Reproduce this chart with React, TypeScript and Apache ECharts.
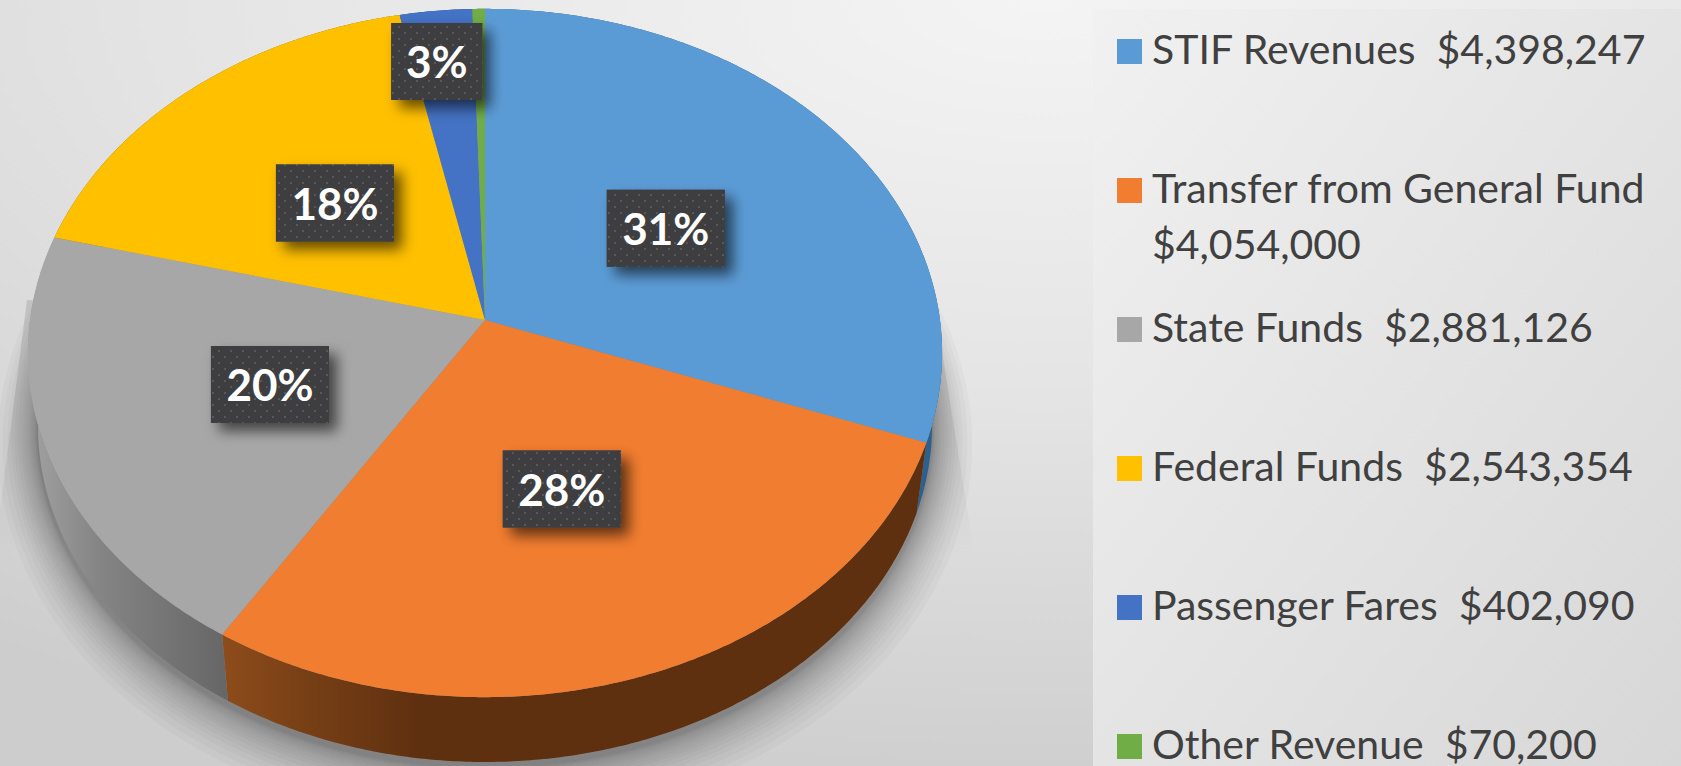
import React, { useEffect, useRef } from "react";
import * as echarts from "echarts";

const categories = ["STIF Revenues", "Transfer from General Fund", "State Funds", "Federal Funds", "Passenger Fares", "Other Revenue"];
const revenues = [4398247, 4054000, 2881126, 2543354, 402090, 70200];
const amounts = ["$4,398,247", "$4,054,000", "$2,881,126", "$2,543,354", "$402,090", "$70,200"];
const topColors = ["#5B9BD5", "#F17D30", "#A7A7A7", "#FFC000", "#4472C4", "#70AD47"];

const W = 1681;
const H = 766;
const total = revenues.reduce((a, b) => a + b, 0);
const starts: number[] = [];
revenues.reduce((acc, v, i) => {
  starts[i] = acc;
  return acc + v;
}, 0);

// perspective projection of the disc
const K = 0.0959;
const topFace = { cx: 485, cy: 320, rx: 455, ry: 341 };
const bottomFace = { cx: 485, cy: 393, rx: 445, ry: 333.6 };
const fontFamily = "Lato, 'Noto Sans', sans-serif";
const shadowSpread = [1, 2, 3, 4, 6, 8, 10, 12, 15, 18, 21, 25, 29, 33, 38, 44, 50];

function project(face: typeof topFace, frac: number, r = 1): number[] {
  const a = frac * Math.PI * 2;
  const X = Math.sin(a) * r;
  const Y = -Math.cos(a) * r;
  const w = 1 - K * Y;
  return [face.cx + (face.rx * X) / w, face.cy + (face.ry * Y) / w];
}

function arc(face: typeof topFace, from: number, to: number): number[][] {
  const n = Math.max(2, Math.ceil((to - from) * 720));
  const pts: number[][] = [];
  for (let i = 0; i <= n; i++) pts.push(project(face, from + ((to - from) * i) / n));
  return pts;
}

const hGrad = (stops: [number, string][]) => ({
  type: "linear",
  x: 0,
  y: 0,
  x2: 1,
  y2: 0,
  colorStops: stops.map(([offset, color]) => ({ offset, color })),
});

const sideFills: any[] = [
  "#2E608E",
  hGrad([[0, "#8E4C1B"], [0.12, "#773F15"], [0.28, "#5F3010"], [1, "#5F3010"]]),
  hGrad([[0, "#A2A2A2"], [0.35, "#858585"], [1, "#666666"]]),
  "#8A6A00",
  "#2B4A80",
  "#47702C",
];

// manual label offsets of the original; "3%" was dragged away from its slice
const labelShift: Record<number, number[]> = { 0: [-1, 3], 3: [2, 2], 4: [-22.5, -97] };

function App() {
  const ref = useRef<HTMLDivElement>(null);

  useEffect(() => {
    document.body.style.margin = "0";
    document.body.style.overflow = "hidden";

    const canvas = document.createElement("canvas");
    canvas.width = 12;
    canvas.height = 12;
    const ctx = canvas.getContext("2d")!;
    ctx.fillStyle = "#3E3E40";
    ctx.fillRect(0, 0, 12, 12);
    ctx.fillStyle = "#58585A";
    [[2, 2], [8, 8]].forEach(([x, y]) => ctx.fillRect(x, y, 2, 2));

    const chart = echarts.init(ref.current!, undefined, { renderer: "svg", width: W, height: H });

    const legendElements: any[] = [];
    categories.forEach((name, i) => {
      const rowY = 51.5 + i * 139;
      legendElements.push({
        type: "rect",
        z: 5,
        shape: { x: 1117, y: rowY - 12.5, width: 25, height: 25 },
        style: { fill: topColors[i] },
      });
      const wrapped = name.length > 20;
      const font = `400 41px ${fontFamily}`;
      legendElements.push({
        type: "text",
        z: 5,
        style: {
          x: 1152,
          y: rowY - 3,
          text: wrapped ? name : `${name}  ${amounts[i]}`,
          font,
          lineHeight: 36,
          fill: "#404040",
          verticalAlign: "middle",
        },
      });
      if (wrapped) {
        legendElements.push({
          type: "text",
          z: 5,
          style: {
            x: 1152,
            y: rowY + 53,
            text: amounts[i],
            font,
            lineHeight: 36,
            fill: "#404040",
            verticalAlign: "middle",
          },
        });
      }
    });

    const data = categories.map((name, i) => ({ name, value: revenues[i] }));

    chart.setOption({
      animation: false,
      tooltip: { show: false },
      graphic: [
        {
          type: "rect",
          z: -10,
          shape: { x: 0, y: 0, width: W, height: H },
          style: {
            fill: {
              type: "radial",
              x: 0.62,
              y: 0,
              r: 1.05,
              colorStops: [
                { offset: 0, color: "#F4F4F4" },
                { offset: 0.5, color: "#E4E4E4" },
                { offset: 1, color: "#CDCDCD" },
              ],
            },
          },
        },
        {
          type: "rect",
          z: -9,
          shape: { x: 1093, y: 9, width: W - 1093, height: H - 9 },
          style: {
            fill: {
              type: "linear",
              x: 0,
              y: 0,
              x2: 1,
              y2: 1,
              colorStops: [
                { offset: 0, color: "#F1F1F1" },
                { offset: 1, color: "#D7D7D7" },
              ],
            },
          },
        },
        {
          type: "polygon",
          z: -8,
          shape: {
            points: [[27, 300], [0, 510], [0, 766], [990, 766], [971, 533], [941, 345]],
          },
          style: {
            fill: {
              type: "linear",
              x: 0,
              y: 0,
              x2: 0,
              y2: 1,
              colorStops: [
                { offset: 0, color: "rgba(0,0,0,0.12)" },
                { offset: 0.3, color: "rgba(0,0,0,0.07)" },
                { offset: 0.55, color: "rgba(0,0,0,0)" },
              ],
            },
          },
        },
        ...legendElements,
      ],
      series: [
        {
          type: "custom",
          name: "Shadow",
          coordinateSystem: "none",
          z: 1,
          silent: true,
          data: shadowSpread,
          renderItem: (_params: any, api: any) => {
            const e = api.value(0);
            const face = {
              cx: bottomFace.cx,
              cy: bottomFace.cy + 5 + e * 0.2,
              rx: bottomFace.rx + e * 0.8,
              ry: bottomFace.ry + e * 0.8,
            };
            return {
              type: "polygon",
              shape: { points: arc(face, 0, 1) },
              style: { fill: "rgba(0,0,0,0.022)" },
            };
          },
        },
        {
          type: "custom",
          name: "Depth",
          coordinateSystem: "none",
          z: 2,
          silent: true,
          data,
          renderItem: (params: any, api: any) => {
            const i = params.dataIndex;
            const from = starts[i] / total;
            const to = from + api.value(0) / total;
            return {
              type: "polygon",
              shape: { points: [...arc(topFace, from, to), ...arc(bottomFace, from, to).reverse()] },
              style: { fill: sideFills[i] },
            };
          },
        },
        {
          type: "custom",
          name: "Revenue",
          coordinateSystem: "none",
          z: 3,
          silent: true,
          data,
          renderItem: (params: any, api: any) => {
            const i = params.dataIndex;
            const from = starts[i] / total;
            const to = from + api.value(0) / total;
            return {
              type: "polygon",
              shape: { points: [[topFace.cx, topFace.cy], ...arc(topFace, from, to)] },
              style: { fill: topColors[i] },
            };
          },
        },
        {
          type: "custom",
          name: "Share",
          coordinateSystem: "none",
          z: 4,
          silent: true,
          data,
          renderItem: (params: any, api: any) => {
            const i = params.dataIndex;
            const share = Math.round((api.value(0) / total) * 100);
            if (share < 1) return null;
            const text = `${share}%`;
            const mid = (starts[i] + api.value(0) / 2) / total;
            const [px, py] = project(topFace, mid, 0.5);
            const [dx, dy] = labelShift[i] || [0, 0];
            const x = px + dx;
            const y = py + dy;
            const w = text.length === 2 ? 91 : 118;
            const h = 77;
            return {
              type: "group",
              children: [
                {
                  type: "rect",
                  shape: { x: x - w / 2, y: y - h / 2, width: w, height: h },
                  style: {
                    fill: "#3E3E40",
                    shadowBlur: 14,
                    shadowOffsetX: 8,
                    shadowOffsetY: 8,
                    shadowColor: "rgba(0,0,0,0.6)",
                  },
                },
                {
                  type: "rect",
                  shape: { x: x - w / 2, y: y - h / 2, width: w, height: h },
                  style: { fill: { image: canvas, repeat: "repeat" } },
                },
                {
                  type: "text",
                  style: {
                    x,
                    y: y,
                    text,
                    font: `700 44px ${fontFamily}`,
                    fill: "#FFFFFF",
                    align: "center",
                    verticalAlign: "middle",
                  },
                },
              ],
            };
          },
        },
      ],
    });

    return () => chart.dispose();
  }, []);

  return <div ref={ref} style={{ width: W, height: H }} />;
}

export default App;
